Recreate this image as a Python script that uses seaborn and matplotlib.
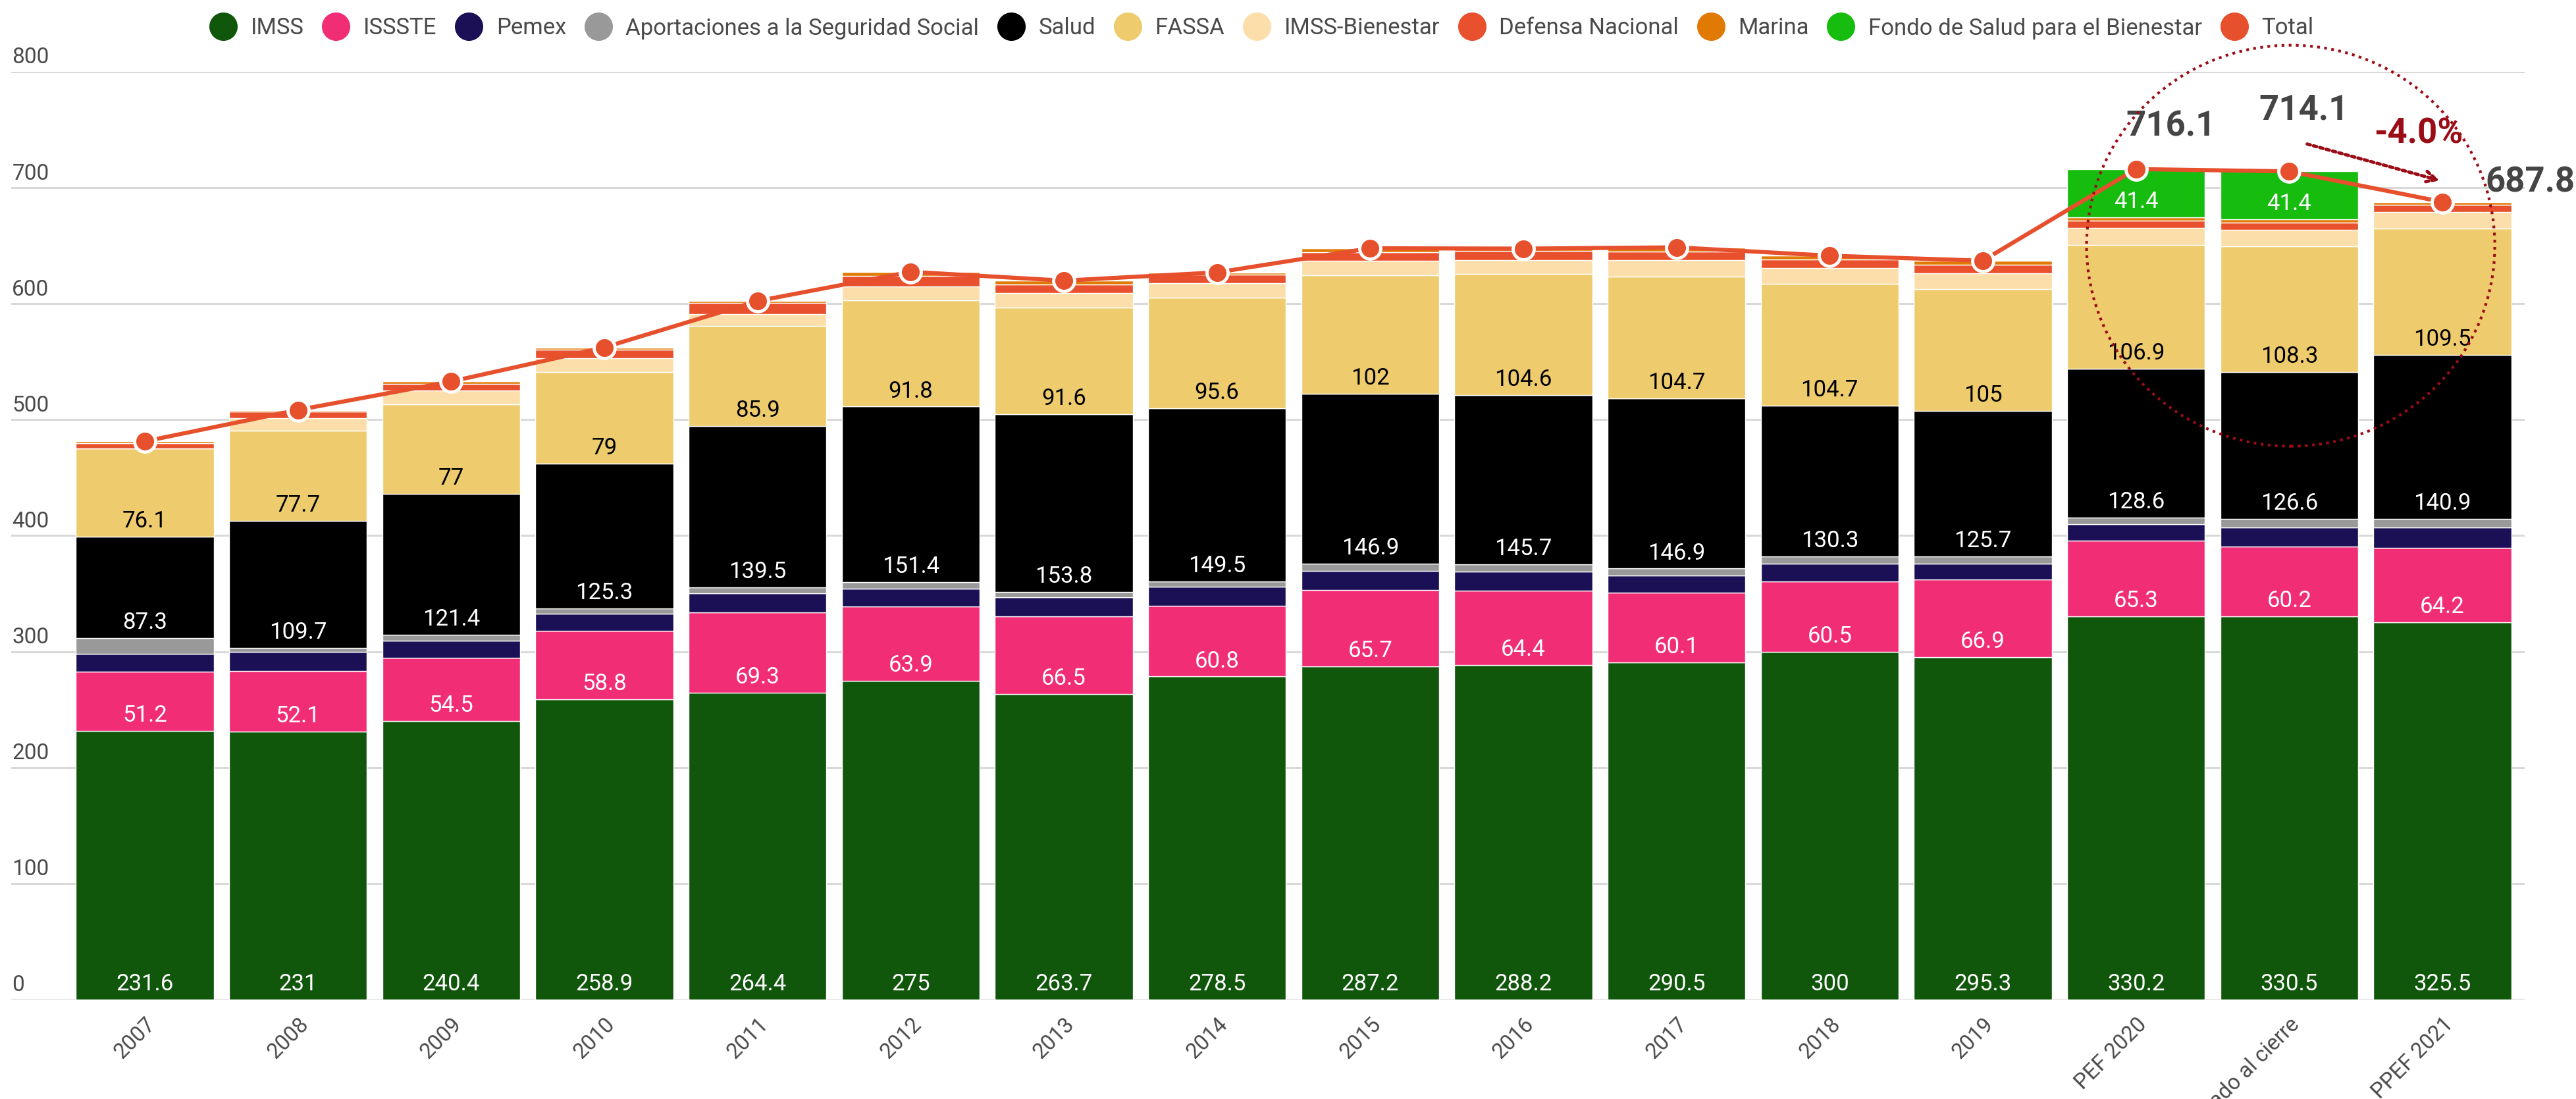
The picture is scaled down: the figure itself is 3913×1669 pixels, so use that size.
import numpy as np
import pandas as pd
import seaborn as sns
import matplotlib.pyplot as plt
import matplotlib.transforms as mtransforms
from matplotlib.lines import Line2D
from matplotlib.patches import Ellipse

# === Data (miles de millones de pesos) ===
categories = ['2007', '2008', '2009', '2010', '2011', '2012', '2013', '2014', '2015',
              '2016', '2017', '2018', '2019', 'PEF 2020', 'Estimado al cierre', 'PPEF 2021']

imss = [231.6, 231, 240.4, 258.9, 264.4, 275, 263.7, 278.5, 287.2, 288.2, 290.5, 300, 295.3, 330.2, 330.5, 325.5]
issste = [51.2, 52.1, 54.5, 58.8, 69.3, 63.9, 66.5, 60.8, 65.7, 64.4, 60.1, 60.5, 66.9, 65.3, 60.2, 64.2]
pemex = [15.3, 16.5, 14.8, 14.8, 16.5, 15.3, 16.5, 16.5, 16.5, 16.5, 14.8, 15.3, 13.6, 14.2, 16.5, 17.6]
aportaciones = [13.6, 3.4, 4.9, 4.5, 5.1, 5.7, 4.5, 4.5, 6.2, 6.2, 6.2, 6.2, 6.2, 5.7, 7.4, 7.4]
salud = [87.3, 109.7, 121.4, 125.3, 139.5, 151.4, 153.8, 149.5, 146.9, 145.7, 146.9, 130.3, 125.7, 128.6, 126.6, 140.9]
fassa = [76.1, 77.7, 77, 79, 85.9, 91.8, 91.6, 95.6, 102, 104.6, 104.7, 104.7, 105, 106.9, 108.3, 109.5]
imss_bienestar = [0, 10.8, 12.3, 11.9, 10.4, 11.9, 12.5, 12.5, 12.5, 11.9, 14.2, 13.6, 13.6, 14.4, 14.5, 14.1]
defensa = [4.7, 5.7, 5.7, 7.4, 9.5, 9.1, 7.4, 7.4, 7.4, 8.0, 7.8, 7.4, 7.4, 6.4, 5.9, 6.0]
marina = [1.5, 1.5, 1.9, 1.7, 1.7, 3.4, 3.4, 1.7, 3.4, 2.0, 3.4, 3.4, 3.4, 3.0, 2.8, 2.6]
fondo_bienestar = [0, 0, 0, 0, 0, 0, 0, 0, 0, 0, 0, 0, 0, 41.4, 41.4, 0]

series = [
    ('IMSS', imss, '#10570b', 'white'),
    ('ISSSTE', issste, '#f02d75', 'white'),
    ('Pemex', pemex, '#1b0f55', None),
    ('Aportaciones a la Seguridad Social', aportaciones, '#999999', None),
    ('Salud', salud, '#000000', 'white'),
    ('FASSA', fassa, '#eecb6c', 'black'),
    ('IMSS-Bienestar', imss_bienestar, '#fcdeaa', None),
    ('Defensa Nacional', defensa, '#e8502e', None),
    ('Marina', marina, '#e07a05', None),
    ('Fondo de Salud para el Bienestar', fondo_bienestar, '#16bd0f', 'white'),
]
total_color = '#e6502d'
annot_red = '#9b0d16'
text_gray = '#454545'

df = pd.DataFrame({name: vals for name, vals, _, _ in series}, index=categories)
total = df.sum(axis=1).round(1).values
n = len(categories)

# === Figure ===
sns.set_style('white')
plt.rcParams['font.family'] = ['Roboto', 'DejaVu Sans']

fig = plt.figure(figsize=(39.13, 16.69), dpi=100)
ax = fig.add_axes([0.00434, 0.0905, 0.9757, 0.8442])

bottom = np.zeros(n)
for name, vals, color, lab_color in series:
    vals = np.array(vals, dtype=float)
    sns.barplot(x=categories, y=vals, bottom=bottom, color=color, saturation=1,
                width=0.9, errorbar=None, order=categories, ax=ax, zorder=2)
    if lab_color is not None:
        for i, v in enumerate(vals):
            if v > 0:
                ax.annotate(f"{v:g}", xy=(i, bottom[i]), xytext=(0, 5), textcoords='offset points',
                            ha='center', va='bottom', fontsize=25, color=lab_color, zorder=6)
    bottom = bottom + vals

# Total line
sns.lineplot(x=np.arange(n), y=total, color=total_color, lw=4.5, marker='o', markersize=23,
             markeredgecolor='white', markeredgewidth=3.5, ax=ax, zorder=5)

# Axes styling
ax.set_xlim(-0.872, 15.537)
ax.set_ylim(0, 800)
ax.set_yticks(range(0, 801, 100))
ax.set_yticklabels([])
ax.grid(axis='y', color='#d9d9d9', lw=2.2)
ax.grid(axis='x', visible=False)
ax.set_axisbelow(True)
for s in ax.spines.values():
    s.set_visible(False)
ax.tick_params(left=False, bottom=False)
ax.set_xlabel('')
ax.set_ylabel('')

trans = mtransforms.blended_transform_factory(ax.transAxes, ax.transData)
for v in range(0, 801, 100):
    ax.annotate(str(v), xy=(0, v), xycoords=trans, xytext=(1, 4), textcoords='offset points',
                ha='left', va='bottom', fontsize=24, color='#4a4a4a')

ax.set_xticks(range(n))
ax.set_xticklabels(categories, rotation=45, ha='right', va='top', rotation_mode='anchor',
                   fontsize=23.5, color='#4a4a4a')
ax.tick_params(axis='x', pad=12)

# Highlights on the last three bars
ax.annotate(f"{total[13]:.1f}", xy=(13, total[13]), xytext=(38, 28), textcoords='offset points',
            ha='center', va='bottom', fontsize=38, fontweight='bold', color=text_gray, zorder=7)
ax.annotate(f"{total[14]:.1f}", xy=(14, total[14]), xytext=(16, 49), textcoords='offset points',
            ha='center', va='bottom', fontsize=38, fontweight='bold', color=text_gray, zorder=7)
ax.annotate(f"{total[15]:.1f}", xy=(15, total[15]), xytext=(47, 21), textcoords='offset points',
            ha='left', va='center', fontsize=38, fontweight='bold', color=text_gray, zorder=7,
            annotation_clip=False)
pct = (total[15] / total[13] - 1) * 100
ax.annotate(f"{pct:.1f}%", xy=(15, total[15]), xytext=(-26, 56), textcoords='offset points',
            ha='center', va='bottom', fontsize=38, fontweight='bold', color=annot_red, zorder=7)

ax.annotate('', xy=(14.995, total[15] + 18), xytext=(14.106, total[14] + 24),
            arrowprops=dict(arrowstyle='->,head_length=1.2,head_width=0.6', color=annot_red,
                            lw=3.6, linestyle=(0, (1, 1))), zorder=7)

ring = Ellipse((14.01, 650), width=2.665, height=345.8, fill=False, edgecolor=annot_red,
               lw=3, linestyle=(0, (1, 1.6)), clip_on=False, zorder=7)
ax.add_patch(ring)

# Legend
handles = [Line2D([], [], marker='o', linestyle='', markersize=31, markerfacecolor=c,
                  markeredgewidth=0) for _, _, c, _ in series]
handles.append(Line2D([], [], marker='o', linestyle='', markersize=31,
                      markerfacecolor=total_color, markeredgewidth=0))
labels = [name for name, _, _, _ in series] + ['Total']
fig.legend(handles, labels, loc='center', bbox_to_anchor=(0.49, 1 - 43 / 1669), ncol=11,
           frameon=False, fontsize=25, handlelength=1.1, handletextpad=0.65,
           columnspacing=0.85, labelcolor='#4a4a4a')

fig.savefig('out.png', dpi=100)
